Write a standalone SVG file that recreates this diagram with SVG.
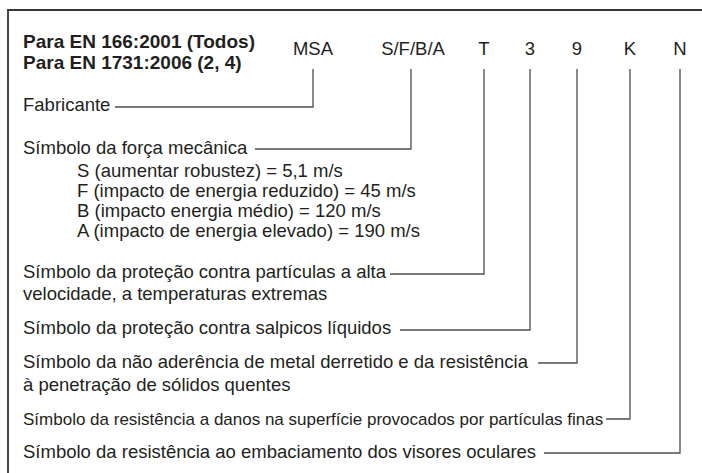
<svg xmlns="http://www.w3.org/2000/svg" width="702" height="473" viewBox="0 0 702 473">
<style>
text{font-family:"Liberation Sans",Arial,Helvetica,sans-serif;fill:#231f20;font-size:18.5px}
.b{font-weight:bold;font-size:19px}
.s{font-size:17px}
.m{text-anchor:middle}
.frame{fill:none;stroke:#3a3536;stroke-width:1.8}
.c{fill:none;stroke:#4d4d4f;stroke-width:1.3}
</style>
<rect width="702" height="473" fill="#fff"/>
<path class="frame" d="M8,473 V10 H702"/>
<g id="header">
<text class="b" x="23" y="48">Para EN 166:2001 (Todos)</text>
<text class="b" x="23" y="69">Para EN 1731:2006 (2, 4)</text>
</g>
<g id="codes">
<text class="m" x="313" y="55">MSA</text>
<text class="m" x="413" y="55">S/F/B/A</text>
<text class="m" x="484" y="55">T</text>
<text class="m" x="530" y="55">3</text>
<text class="m" x="577" y="55">9</text>
<text class="m" x="630" y="55">K</text>
<text class="m" x="680" y="55">N</text>
</g>
<g id="fabricante"><text x="23" y="111">Fabricante</text></g>
<g id="forca">
<text x="23" y="154">Símbolo da força mecânica</text>
<text x="77" y="177">S (aumentar robustez) = 5,1 m/s</text>
<text x="77" y="197">F (impacto de energia reduzido) = 45 m/s</text>
<text x="77" y="217">B (impacto energia médio) = 120 m/s</text>
<text x="77" y="237">A (impacto de energia elevado) = 190 m/s</text>
</g>
<g id="particulas">
<text x="23" y="278">Símbolo da proteção contra partículas a alta</text>
<text x="23" y="300">velocidade, a temperaturas extremas</text>
</g>
<g id="salpicos"><text x="23" y="334">Símbolo da proteção contra salpicos líquidos</text></g>
<g id="metal">
<text x="23" y="368">Símbolo da não aderência de metal derretido e da resistência</text>
<text x="23" y="391">à penetração de sólidos quentes</text>
</g>
<g id="danos"><text class="s" x="23" y="425">Símbolo da resistência a danos na superfície provocados por partículas finas</text></g>
<g id="embaciamento"><text x="23" y="458">Símbolo da resistência ao embaciamento dos visores oculares</text></g>
<g id="connectors">
<path class="c" d="M115,107 H313 V69"/>
<path class="c" d="M255,149 H411 V69"/>
<path class="c" d="M390,274 H484 V69"/>
<path class="c" d="M400,330 H530 V69"/>
<path class="c" d="M538,363 H577 V69"/>
<path class="c" d="M606,419 H630 V69"/>
<path class="c" d="M544,453 H680 V69"/>
</g>
</svg>
